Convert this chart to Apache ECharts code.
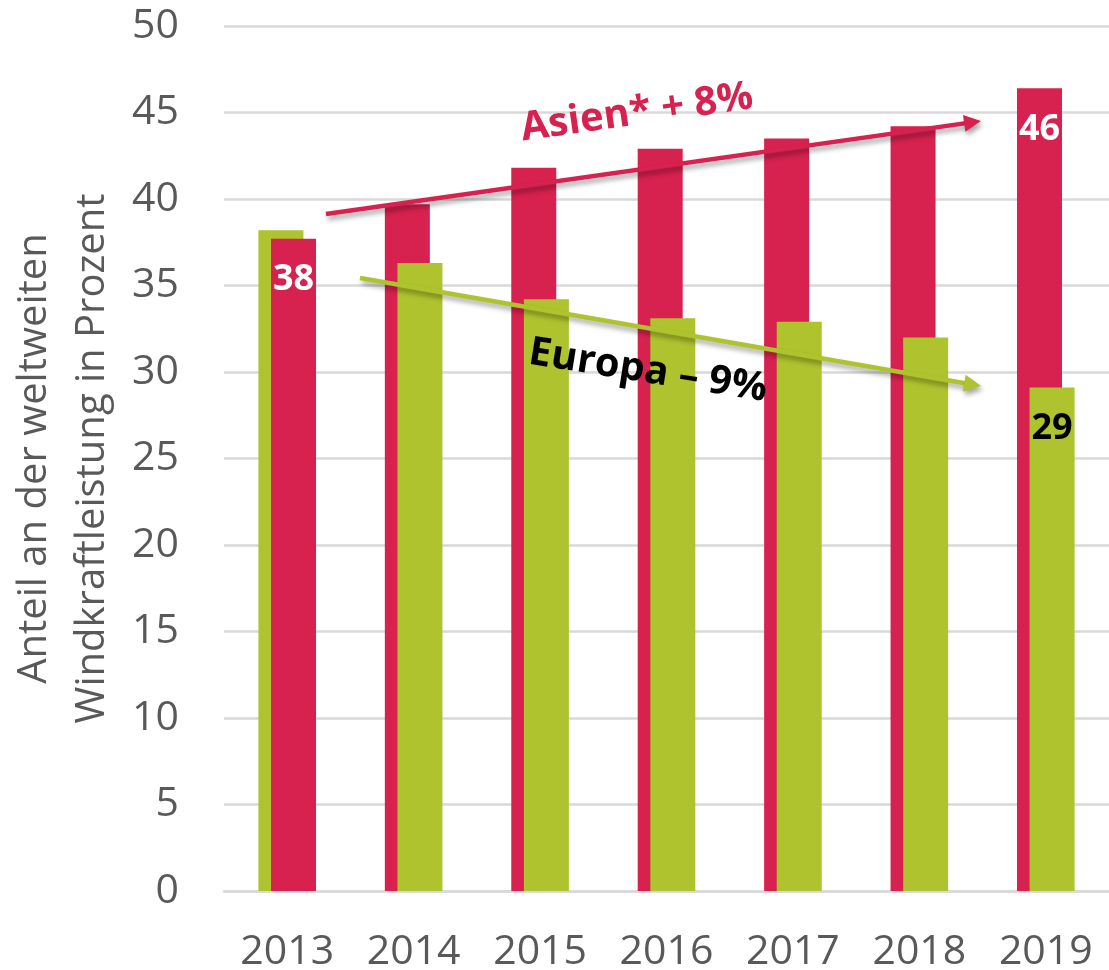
<!DOCTYPE html>
<html>
<head>
<meta charset="utf-8">
<script src="https://cdn.jsdelivr.net/npm/echarts@6/dist/echarts.min.js"></script>
<style>
html,body{margin:0;padding:0;background:#fff;}
#chart{width:1109px;height:970px;}
</style>
</head>
<body>
<div id="chart"></div>
<script>
// ---- data ----
const years = ['2013', '2014', '2015', '2016', '2017', '2018', '2019'];
const asia = [37.7, 39.7, 41.8, 42.9, 43.5, 44.2, 46.4];
const europe = [38.2, 36.3, 34.2, 33.1, 32.9, 32.0, 29.1];
const yTicks = [0, 5, 10, 15, 20, 25, 30, 35, 40, 45, 50];
const asiaLabelYears = ['2013', '2019'];
const europeLabelYears = ['2019'];
const yAxisTitle = ['Anteil an der weltweiten', 'Windkraftleistung in Prozent'];
const asiaNote = 'Asien* + 8%';
const europeNote = 'Europa \u2013 9%';

// ---- styles ----
const RED = '#D7214F';
const GREEN = '#AEC32D';
const GREY = '#595959';
const GRID = '#D9D9D9';
const FONT = '"Open Sans", "Liberation Sans", sans-serif';

// In 2013 Europe is drawn on the left (behind), Asia on the right (front);
// in all other years Asia is left (behind) and Europe right (front).
function item(value, isAsia, year) {
  const showLbl = isAsia ? asiaLabelYears.includes(year) : europeLabelYears.includes(year);
  return {
    value: value,
    itemStyle: { color: isAsia ? RED : GREEN },
    label: {
      show: showLbl,
      position: 'insideTop',
      distance: 22,
      color: isAsia ? '#FFFFFF' : '#000000',
      fontFamily: FONT,
      fontWeight: 'bold',
      fontSize: 36,
      lineHeight: 38,
      formatter: p => String(Math.round(p.value))
    }
  };
}
const leftData = years.map((y, i) => i === 0 ? item(europe[i], false, y) : item(asia[i], true, y));
const rightData = years.map((y, i) => i === 0 ? item(asia[i], true, y) : item(europe[i], false, y));

function arrow(x1, y1, x2, y2, color) {
  const dx = x2 - x1, dy = y2 - y1;
  const len = Math.sqrt(dx * dx + dy * dy);
  const ux = dx / len, uy = dy / len;
  const headL = 17, headW = 8.5;
  const bx = x2 - ux * headL, by = y2 - uy * headL;
  const nx = -uy, ny = ux;
  const shadow = { shadowBlur: 5, shadowOffsetX: 2, shadowOffsetY: 4, shadowColor: 'rgba(0,0,0,0.35)' };
  return [
    { type: 'line', z: 100, shape: { x1: x1, y1: y1, x2: bx + ux * 2, y2: by + uy * 2 },
      style: Object.assign({ stroke: color, lineWidth: 4.5 }, shadow) },
    { type: 'polygon', z: 100, shape: { points: [[x2, y2], [bx + nx * headW, by + ny * headW], [bx - nx * headW, by - ny * headW]] },
      style: Object.assign({ fill: color }, shadow) }
  ];
}

const chart = echarts.init(document.getElementById('chart'), null, { renderer: 'canvas' });
chart.setOption({
  animation: false,
  backgroundColor: '#fff',
  grid: { left: 224, right: 0, top: 26, bottom: 79, containLabel: false, outerBoundsMode: 'none' },
  xAxis: {
    type: 'category',
    data: years,
    axisTick: { show: false },
    axisLine: { show: true, lineStyle: { color: GRID, width: 2.5 } },
    axisLabel: { color: GREY, fontFamily: FONT, fontSize: 41, margin: 41, interval: 0, hideOverlap: false }
  },
  yAxis: {
    type: 'value',
    min: yTicks[0],
    max: yTicks[yTicks.length - 1],
    interval: yTicks[1] - yTicks[0],
    axisLine: { show: false },
    axisTick: { show: false },
    splitLine: { show: true, lineStyle: { color: GRID, width: 2.5 } },
    axisLabel: { color: GREY, fontFamily: FONT, fontSize: 41, margin: 45 },
    name: yAxisTitle.join('\n'),
    nameLocation: 'middle',
    nameRotate: 90,
    nameGap: 99,
    nameTextStyle: { color: GREY, fontFamily: FONT, fontSize: 40, lineHeight: 58 }
  },
  series: [
    { type: 'bar', name: 'left', data: leftData, barWidth: 45, barGap: '-72%', z: 2 },
    { type: 'bar', name: 'right', data: rightData, barWidth: 45, barGap: '-72%', z: 3 }
  ],
  graphic: [].concat(
    arrow(326, 214, 981, 121, RED),
    arrow(360, 278, 981, 386, GREEN),
    [
      { type: 'text', z: 101, x: 637, y: 113, rotation: 8 * Math.PI / 180,
        style: { text: asiaNote, fill: RED, font: 'bold 40px ' + FONT, align: 'center', verticalAlign: 'middle' } },
      { type: 'text', z: 101, x: 648, y: 371, rotation: -9 * Math.PI / 180,
        style: { text: europeNote, fill: '#000', font: 'bold 40px ' + FONT, align: 'center', verticalAlign: 'middle' } }
    ]
  )
});
</script>
</body>
</html>
